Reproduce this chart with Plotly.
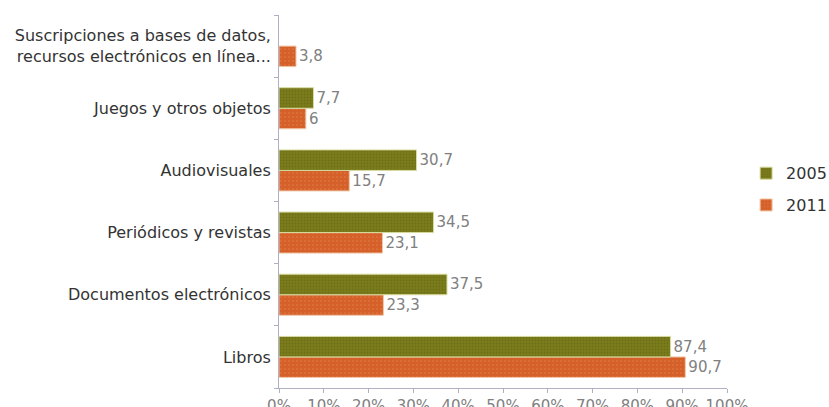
import plotly.graph_objects as go

# Datos
categorias = ['Libros', 'Documentos electrónicos', 'Periódicos y revistas',
              'Audiovisuales', 'Juegos y otros objetos',
              'Suscripciones a bases de datos,<br>recursos electrónicos en línea...']
valores_2005 = [87.4, 37.5, 34.5, 30.7, 7.7, None]
valores_2011 = [90.7, 23.3, 23.1, 15.7, 6, 3.8]

def etiqueta(v):
    if v is None:
        return ''
    return ('%g' % v).replace('.', ',')

fig = go.Figure()
fig.add_trace(go.Bar(y=categorias, x=valores_2011, name='2011', orientation='h',
                     legendgroup='b', legendrank=2,
                     marker=dict(color='#d6602a', line=dict(color='#f0c8a8', width=1),
                                 pattern=dict(shape='.', size=4, solidity=0.15, fgcolor='#e8915e')),
                     text=[etiqueta(v) for v in valores_2011], textposition='outside',
                     constraintext='none',
                     textfont=dict(color='#808080', size=15), cliponaxis=False))
fig.add_trace(go.Bar(y=categorias, x=valores_2005, name='2005', orientation='h',
                     legendgroup='a', legendrank=1,
                     marker=dict(color='#7b7d1c', line=dict(color='#d8dca0', width=1),
                                 pattern=dict(shape='.', size=3, solidity=0.3, fgcolor='#5e6012')),
                     text=[etiqueta(v) for v in valores_2005], textposition='outside',
                     constraintext='none',
                     textfont=dict(color='#808080', size=15), cliponaxis=False))

fig.update_layout(
    width=829, height=407,
    margin=dict(l=279, r=102, t=15, b=19, autoexpand=False),
    paper_bgcolor='white', plot_bgcolor='white',
    font=dict(family='DejaVu Sans', size=16, color='#333333'),
    barmode='group', bargap=0.34, bargroupgap=0,
    legend=dict(x=0.900, y=0.535, xref='container', yref='container',
                xanchor='left', yanchor='middle',
                traceorder='grouped', font=dict(size=16, color='#333333'),
                tracegroupgap=8, itemwidth=30),
    showlegend=True,
)
fig.update_xaxes(range=[0, 100], dtick=10, ticksuffix='%', showgrid=False,
                 showline=True, linecolor='#b0b0c4', ticks='outside', ticklen=4,
                 tickcolor='#b0b0c4', tickfont=dict(color='#808080', size=15),
                 zeroline=False, automargin=False)
fig.update_yaxes(showgrid=False, showline=True, linecolor='#b0b0c4', ticks='outside',
                 ticklen=4, tickcolor='#b0b0c4', tickson='boundaries',
                 ticklabelstandoff=4, automargin=False,
                 tickfont=dict(color='#333333', size=16))

# quitar el margen por defecto del body para que la figura quede en (0, 0)
fig.write_html("out.html", config={'displayModeBar': False},
               post_script="document.body.style.margin='0px';")
